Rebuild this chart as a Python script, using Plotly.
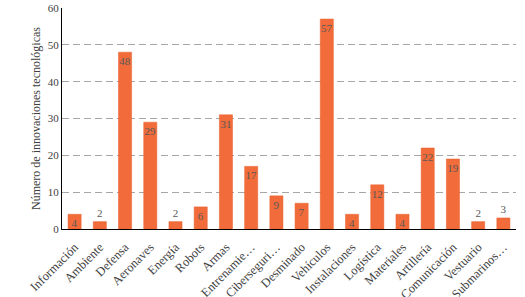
import plotly.graph_objects as go

categories = ["Información", "Ambiente", "Defensa", "Aeronaves", "Energía", "Robots", "Armas",
              "Entrenamie…", "Ciberseguri…", "Desminado", "Vehículos", "Instalaciones", "Logística",
              "Materiales", "Artillería", "Comunicación", "Vestuario", "Submarinos…"]
values = [4, 2, 48, 29, 2, 6, 31, 17, 9, 7, 57, 4, 12, 4, 22, 19, 2, 3]
y_ticks = [0, 10, 20, 30, 40, 50, 60]

FONT = "Liberation Serif"

text_pos = ["inside" if v >= 4 else "outside" for v in values]

fig = go.Figure(go.Bar(
    x=categories, y=values,
    marker=dict(color="#F26B3A", line=dict(color="#E8602F", width=0.5)),
    text=[str(v) for v in values],
    textposition=text_pos, insidetextanchor="end",
    textfont=dict(family=FONT, size=11, color="#595959"),
    cliponaxis=False,
))

fig.update_layout(
    width=525, height=297,
    margin=dict(l=62, r=9, t=8, b=68),
    paper_bgcolor="white", plot_bgcolor="white",
    bargap=0.48,
    showlegend=False,
    uniformtext=dict(minsize=11, mode="show"),
    font=dict(family=FONT, color="#404040"),
)
fig.update_xaxes(
    tickangle=-45, tickfont=dict(family=FONT, size=12.5, color="#404040"),
    showline=True, linecolor="black", linewidth=1, ticks="",
    ticklabelstandoff=5,
    automargin=False,
)
fig.update_yaxes(
    range=[0, 60], tickvals=y_ticks,
    tickfont=dict(family=FONT, size=11, color="#404040"),
    showgrid=True, gridcolor="#A6A6A6", griddash="7px,4px", gridwidth=1.3,
    showline=True, linecolor="black", linewidth=1, zeroline=False,
    automargin=False,
    title=dict(text="Número de innovaciones tecnológicas",
               font=dict(family=FONT, size=12, color="#404040"), standoff=4),
)

fig.write_html("out.html", config={"displayModeBar": False},
               post_script="document.body.style.margin='0';")
